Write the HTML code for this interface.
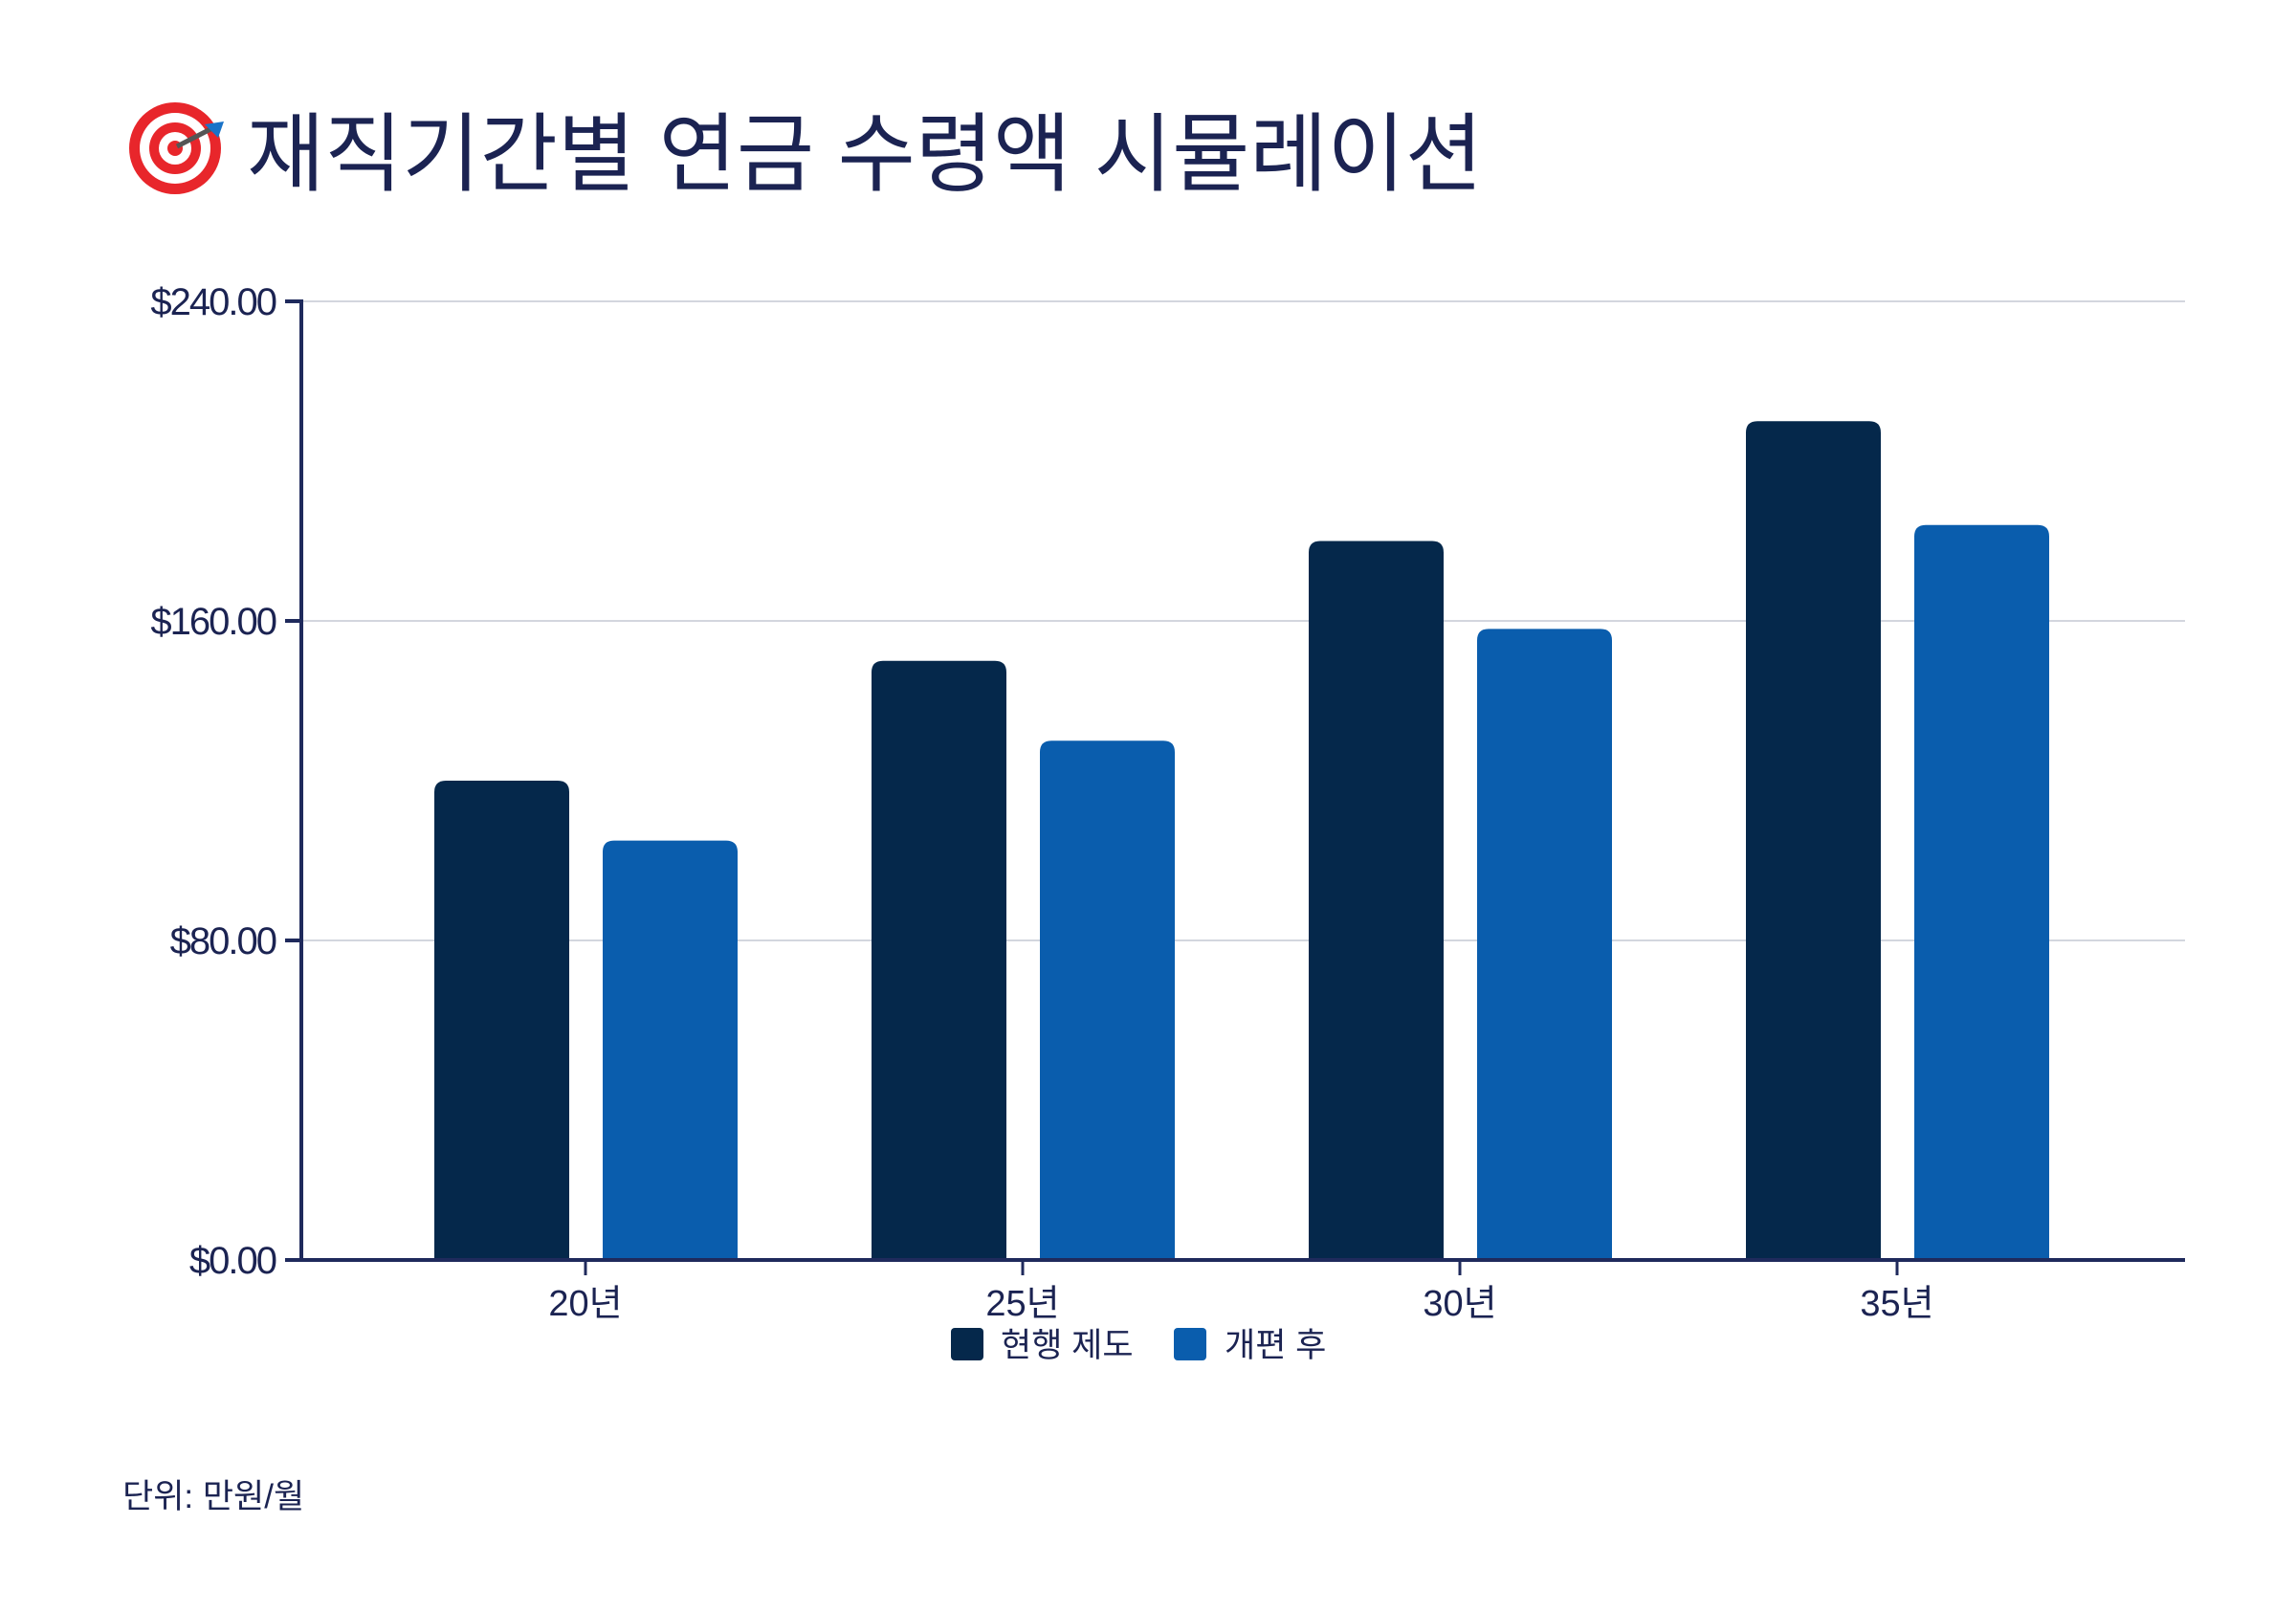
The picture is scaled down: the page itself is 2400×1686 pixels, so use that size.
<!DOCTYPE html>
<html><head><meta charset="utf-8">
<style>
html,body{margin:0;padding:0;background:#fff;}
svg{display:block;}
text{font-family:"Liberation Sans","Noto Sans CJK KR",sans-serif;}
</style></head>
<body>
<svg id="chart" width="2400" height="1686" viewBox="0 0 2400 1686" xmlns="http://www.w3.org/2000/svg">
  <g>
    <circle cx="183" cy="155" r="48" fill="#e8262b"/>
    <circle cx="183" cy="155" r="37" fill="#fff"/>
    <circle cx="183" cy="155" r="27" fill="#e8262b"/>
    <circle cx="183" cy="155" r="17" fill="#fff"/>
    <circle cx="183" cy="155" r="8" fill="#e8262b"/>
    <line x1="185" y1="153" x2="222" y2="134" stroke="#555" stroke-width="5"/>
    <path d="M214 130 L234 127 L228 144 Z" fill="#1a73c8"/>
  </g>
  <text x="258" y="192" font-size="90" fill="#1b2352" textLength="1292" lengthAdjust="spacingAndGlyphs">재직기간별 연금 수령액 시뮬레이션</text>
  <g id="grid"></g>
  <g id="bars"></g>
  <g id="axes"></g>
  <g>
    <g>
      <rect x="994" y="1388" width="34" height="34" rx="4" fill="#05284b"/>
      <text x="1046" y="1418" font-size="35" fill="#1b2352">현행 제도</text>
    </g>
    <g>
      <rect x="1227" y="1388" width="34" height="34" rx="4" fill="#0a5dad"/>
      <text x="1280" y="1418" font-size="35" fill="#1b2352">개편 후</text>
    </g>
  </g>
  <text x="128" y="1576" font-size="35" fill="#1b2352">단위: 만원/월</text>
</svg>
<script>
const categories = ["20년","25년","30년","35년"];
const currentValues = [120,150,180,210];
const reformValues = [105,130,158,184];
const yTicks = [0,80,160,240];
const yTickLabels = ["$0.00","$80.00","$160.00","$240.00"];

const NS = "http://www.w3.org/2000/svg";
const x0 = 315, x1 = 2284, yTop = 315, yBot = 1317, yMax = 240;
const band = 457, firstCenter = 612;
function yScale(v){ return yBot - (v / yMax) * (yBot - yTop); }
function xCenter(i){ return firstCenter + i * band; }
function mk(tag, attrs){ const e = document.createElementNS(NS, tag); for (const k in attrs) e.setAttribute(k, attrs[k]); return e; }

const grid = document.getElementById('grid');
const axes = document.getElementById('axes');
const bars = document.getElementById('bars');

yTicks.forEach((t, i) => {
  const y = yScale(t);
  if (t > 0) {
    const gl = mk('line', {x1: x0, x2: x1, y1: y, y2: y, stroke: '#d3d6de', 'stroke-width': 2});
    
    
    grid.appendChild(gl);
  }
  const tk = mk('line', {x1: 298, x2: x0, y1: y, y2: y, stroke: '#1f2a5c', 'stroke-width': 4});
  
  
  axes.appendChild(tk);
  const lb = mk('text', {x: 288, y: y + 14, 'font-size': 40, fill: '#1b2352', 'text-anchor': 'end', 'letter-spacing': '-2'});
  lb.textContent = yTickLabels[i];
  
  
  axes.appendChild(lb);
});

function barPath(x, w, v){
  const yt = yScale(v), r = 12;
  return `M${x} ${yBot} L${x} ${yt + r} Q${x} ${yt} ${x + r} ${yt} L${x + w - r} ${yt} Q${x + w} ${yt} ${x + w} ${yt + r} L${x + w} ${yBot} Z`;
}
categories.forEach((c, i) => {
  const cx = xCenter(i);
  const b1 = mk('path', {d: barPath(cx - 158, 141, currentValues[i]), fill: '#05284b'});
  
  
  bars.appendChild(b1);
  const b2 = mk('path', {d: barPath(cx + 18, 141, reformValues[i]), fill: '#0a5dad'});
  
  
  bars.appendChild(b2);
  const tk = mk('line', {x1: cx, x2: cx, y1: yBot, y2: yBot + 16, stroke: '#1f2a5c', 'stroke-width': 3});
  
  
  axes.appendChild(tk);
  const lb = mk('text', {x: cx, y: 1375, 'font-size': 38, fill: '#1b2352', 'text-anchor': 'middle'});
  lb.textContent = c;
  
  
  axes.appendChild(lb);
});

const ya = mk('line', {x1: x0, x2: x0, y1: yTop - 2, y2: yBot + 2, stroke: '#1f2a5c', 'stroke-width': 4});


axes.appendChild(ya);
const xa = mk('line', {x1: x0, x2: x1, y1: yBot, y2: yBot, stroke: '#1f2a5c', 'stroke-width': 4});


axes.appendChild(xa);
</script>
</body></html>
